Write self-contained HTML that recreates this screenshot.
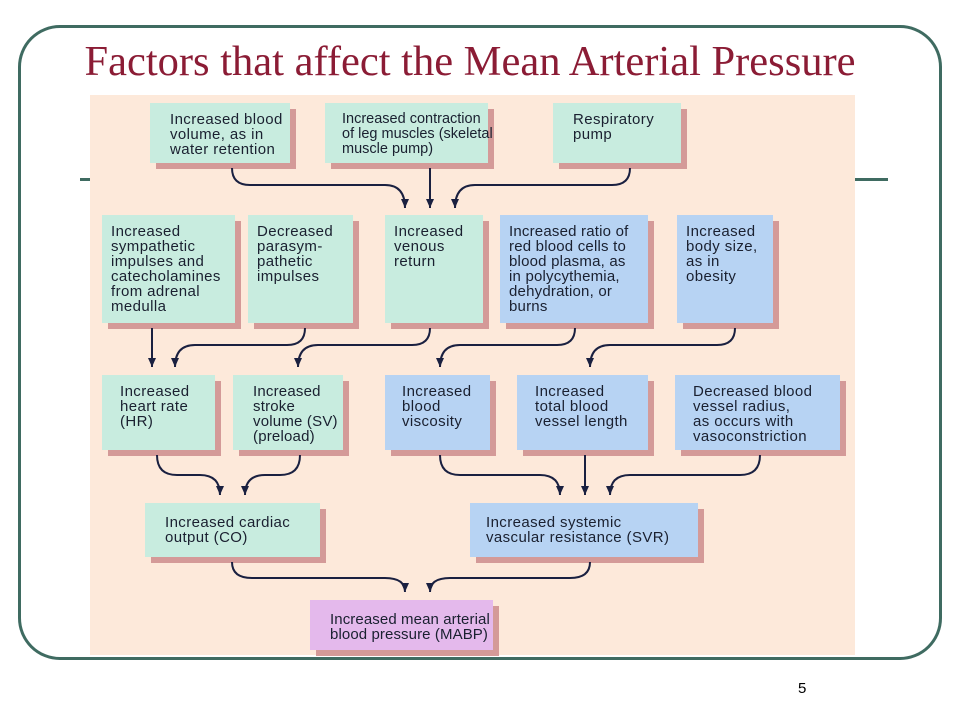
<!DOCTYPE html>
<html><head><style>
body{margin:0;width:960px;height:720px;background:#fff;position:relative;overflow:hidden;font-family:"Liberation Sans",sans-serif}
.frame{position:absolute;left:18px;top:25px;width:924px;height:635px;border:3px solid #3f6b61;border-radius:42px;box-sizing:border-box}
.title{position:absolute;left:0;width:940px;top:37px;text-align:center;font-family:"Liberation Serif",serif;font-size:42.5px;color:#8b1c35;white-space:nowrap}
.hl{position:absolute;height:3px;background:#3f6b61;top:178px}
.img{position:absolute;left:90px;top:95px;width:765px;height:560px;background:#fde9da}
.b{position:absolute;box-sizing:border-box;padding:9px 9px;font-size:15px;letter-spacing:0.4px;line-height:15px;color:#1a2030;box-shadow:6px 6px 0 #d49a98;white-space:nowrap}
.t{background:#c8ecdf}.u{background:#b7d3f3}.m{background:#e4b9ec}
.num{position:absolute;left:798px;top:680px;font-size:15px}
</style></head><body>
<div class="frame"></div>
<div class="title">Factors that affect the Mean Arterial Pressure</div>
<div class="hl" style="left:80px;width:12px"></div>
<div class="hl" style="left:853px;width:35px"></div>
<div class="img"></div>
<div class="b t" style="left:150px;top:103px;width:140px;height:60px;padding-left:20px">Increased blood<br>volume, as in<br>water retention</div>
<div class="b t" style="left:325px;top:103px;width:163px;height:60px;padding-left:17px;letter-spacing:0;font-size:14.5px">Increased contraction<br>of leg muscles (skeletal<br>muscle pump)</div>
<div class="b t" style="left:553px;top:103px;width:128px;height:60px;padding-left:20px">Respiratory<br>pump</div>
<div class="b t" style="left:102px;top:215px;width:133px;height:108px">Increased<br>sympathetic<br>impulses and<br>catecholamines<br>from adrenal<br>medulla</div>
<div class="b t" style="left:248px;top:215px;width:105px;height:108px">Decreased<br>parasym-<br>pathetic<br>impulses</div>
<div class="b t" style="left:385px;top:215px;width:98px;height:108px">Increased<br>venous<br>return</div>
<div class="b u" style="left:500px;top:215px;width:148px;height:108px;letter-spacing:0.2px">Increased ratio of<br>red blood cells to<br>blood plasma, as<br>in polycythemia,<br>dehydration, or<br>burns</div>
<div class="b u" style="left:677px;top:215px;width:96px;height:108px">Increased<br>body size,<br>as in<br>obesity</div>
<div class="b t" style="left:102px;top:375px;width:113px;height:75px;padding-left:18px">Increased<br>heart rate<br>(HR)</div>
<div class="b t" style="left:233px;top:375px;width:110px;height:75px;padding-left:20px;letter-spacing:0.2px">Increased<br>stroke<br>volume (SV)<br>(preload)</div>
<div class="b u" style="left:385px;top:375px;width:105px;height:75px;padding-left:17px">Increased<br>blood<br>viscosity</div>
<div class="b u" style="left:517px;top:375px;width:131px;height:75px;padding-left:18px">Increased<br>total blood<br>vessel length</div>
<div class="b u" style="left:675px;top:375px;width:165px;height:75px;padding-left:18px">Decreased blood<br>vessel radius,<br>as occurs with<br>vasoconstriction</div>
<div class="b t" style="left:145px;top:503px;width:175px;height:54px;padding-top:12px;padding-left:20px">Increased cardiac<br>output (CO)</div>
<div class="b u" style="left:470px;top:503px;width:228px;height:54px;padding-top:12px;padding-left:16px">Increased systemic<br>vascular resistance (SVR)</div>
<div class="b m" style="left:310px;top:600px;width:183px;height:50px;padding-top:12px;padding-left:20px;letter-spacing:0.1px">Increased mean arterial<br>blood pressure (MABP)</div>
<svg style="position:absolute;left:0;top:0" width="960" height="720">
<defs><marker id="a" markerWidth="10" markerHeight="10" refX="9" refY="5" orient="auto" markerUnits="userSpaceOnUse"><path d="M0,1 L9,5 L0,9z" fill="#1a2040"/></marker></defs>
<g fill="none" stroke="#1a2040" stroke-width="2" marker-end="url(#a)">
<path d="M232,168 Q232,185 250,185 L385,185 Q405,185 405,208"/>
<path d="M430,168 L430,208"/>
<path d="M630,168 Q630,185 612,185 L475,185 Q455,185 455,208"/>
<path d="M152,328 L152,367"/>
<path d="M305,328 Q305,345 287,345 L195,345 Q175,345 175,367"/>
<path d="M430,328 Q430,345 412,345 L318,345 Q298,345 298,367"/>
<path d="M575,328 Q575,345 557,345 L460,345 Q440,345 440,367"/>
<path d="M735,328 Q735,345 717,345 L610,345 Q590,345 590,367"/>
<path d="M157,455 Q157,475 177,475 L200,475 Q220,475 220,495"/>
<path d="M300,455 Q300,475 280,475 L265,475 Q245,475 245,495"/>
<path d="M440,455 Q440,475 460,475 L540,475 Q560,475 560,495"/>
<path d="M585,455 L585,495"/>
<path d="M760,455 Q760,475 740,475 L630,475 Q610,475 610,495"/>
<path d="M232,562 Q232,578 252,578 L385,578 Q405,578 405,592"/>
<path d="M590,562 Q590,578 570,578 L450,578 Q430,578 430,592"/>
</g></svg>
<div class="num">5</div>
</body></html>
